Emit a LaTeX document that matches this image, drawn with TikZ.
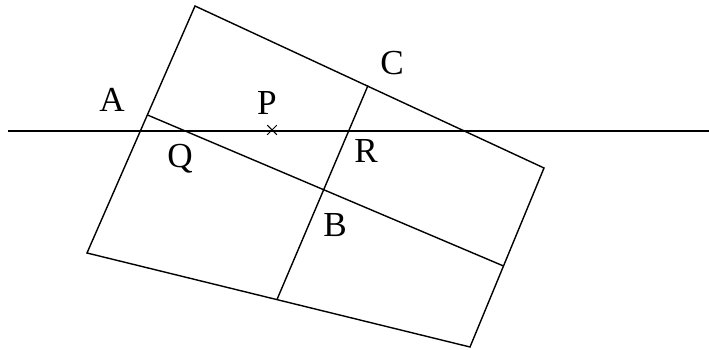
\documentclass[tikz,border=0pt]{standalone}
\usepackage{fontspec}
\setmainfont{Liberation Serif}
\usetikzlibrary{shapes.misc}
\tikzset{
  edge/.style={draw=black, line width=0.8pt},
  axis/.style={draw=black, line width=1.1pt},
  lbl/.style={anchor=base, inner sep=0pt, font=\fontsize{20}{20}\selectfont},
  crossmark/.style={draw=black, cross out, line width=0.6pt, minimum size=0.17cm, inner sep=0pt}
}
\begin{document}
\begin{tikzpicture}[x=0.02cm, y=-0.02cm]
  \useasboundingbox (0,0) rectangle (709,350);
  % corners of the tilted rectangle
  \coordinate (tl) at (195,6);
  \coordinate (tr) at (544,168);
  \coordinate (br) at (470,347);
  \coordinate (bl) at (87,253);
  % ends of the two inner lines
  \coordinate (qa) at (147.5,115);
  \coordinate (qb) at (503.5,266);
  \coordinate (ca) at (368,85.5);
  \coordinate (cb) at (277,299.5);
  % horizontal line
  \coordinate (hl) at (8,131);
  \coordinate (hr) at (709,131);

  \draw[edge] (tl) -- (tr) -- (br) -- (bl) -- cycle;
  \draw[edge] (qa) -- (qb);
  \draw[edge] (ca) -- (cb);
  \draw[axis] (hl) -- (hr);
  \node[crossmark] (p) at (272,130) {};

  \node[lbl] (labA) at (112,112) {A};
  \node[lbl] (labP) at (267,115) {P};
  \node[lbl] (labQ) at (180,168) {Q};
  \node[lbl] (labR) at (366,163) {R};
  \node[lbl] (labC) at (392,75) {C};
  \node[lbl] (labB) at (335,237) {B};
\end{tikzpicture}
\end{document}
